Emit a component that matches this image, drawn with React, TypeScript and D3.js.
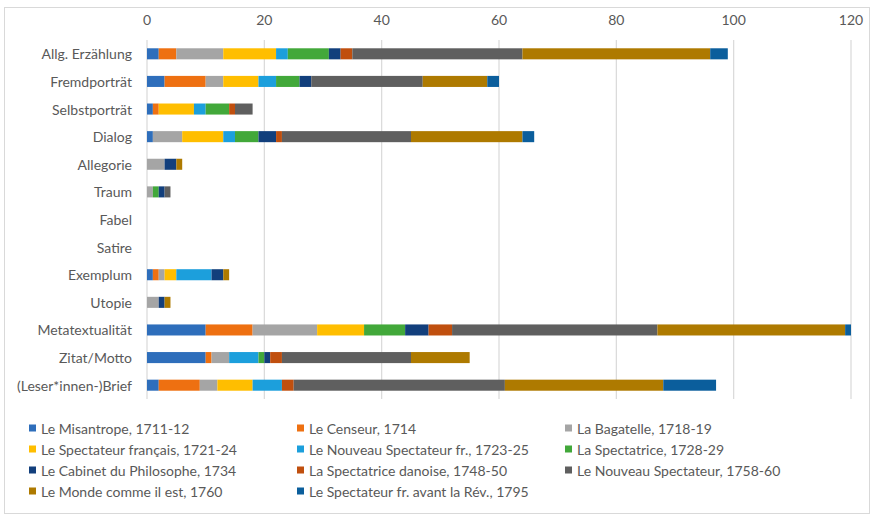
import React from "react";
import * as d3 from "d3";

const categories = [
  "Allg. Erzählung",
  "Fremdporträt",
  "Selbstporträt",
  "Dialog",
  "Allegorie",
  "Traum",
  "Fabel",
  "Satire",
  "Exemplum",
  "Utopie",
  "Metatextualität",
  "Zitat/Motto",
  "(Leser*innen-)Brief",
];

const seriesNames = [
  "Le Misantrope, 1711-12",
  "Le Censeur, 1714",
  "La Bagatelle, 1718-19",
  "Le Spectateur français, 1721-24",
  "Le Nouveau Spectateur fr., 1723-25",
  "La Spectatrice, 1728-29",
  "Le Cabinet du Philosophe, 1734",
  "La Spectatrice danoise, 1748-50",
  "Le Nouveau Spectateur, 1758-60",
  "Le Monde comme il est, 1760",
  "Le Spectateur fr. avant la Rév., 1795",
];

const misantrope = [2, 3, 1, 1, 0, 0, 0, 0, 1, 0, 10, 10, 2];
const censeur = [3, 7, 1, 0, 0, 0, 0, 0, 1, 0, 8, 1, 7];
const bagatelle = [8, 3, 0, 5, 3, 1, 0, 0, 1, 2, 11, 3, 3];
const spectateurFrancais = [9, 6, 6, 7, 0, 0, 0, 0, 2, 0, 8, 0, 6];
const nouveauSpectateurFr = [2, 3, 2, 2, 0, 0, 0, 0, 6, 0, 0, 5, 5];
const spectatrice = [7, 4, 4, 4, 0, 1, 0, 0, 0, 0, 7, 1, 0];
const cabinet = [2, 2, 0, 3, 2, 1, 0, 0, 2, 1, 4, 1, 0];
const spectatriceDanoise = [2, 0, 1, 1, 0, 0, 0, 0, 0, 0, 4, 2, 2];
const nouveauSpectateur = [29, 19, 3, 22, 0, 1, 0, 0, 0, 0, 35, 22, 36];
const mondeCommeIlEst = [32, 11, 0, 19, 1, 0, 0, 0, 1, 1, 32, 10, 27];
const spectateurAvantRev = [3, 2, 0, 2, 0, 0, 0, 0, 0, 0, 1, 0, 9];

const seriesValues = [
  misantrope,
  censeur,
  bagatelle,
  spectateurFrancais,
  nouveauSpectateurFr,
  spectatrice,
  cabinet,
  spectatriceDanoise,
  nouveauSpectateur,
  mondeCommeIlEst,
  spectateurAvantRev,
];

const colors = [
  "#2E6EBB",
  "#EE7011",
  "#A5A5A5",
  "#FFBE00",
  "#1C9FDC",
  "#42A83A",
  "#123F7C",
  "#C04F0E",
  "#5F5F5F",
  "#AE7A00",
  "#0B5E9C",
];

const xTicks = [0, 20, 40, 60, 80, 100, 120];

const W = 872;
const H = 516;
const FONT = "Lato, 'Open Sans', 'Liberation Sans', sans-serif";

export default function App() {
  const x = d3.scaleLinear().domain([0, 120]).range([147, 851]);
  const y = d3
    .scaleBand<string>()
    .domain(categories)
    .range([40, 399])
    .paddingInner(0.6)
    .paddingOuter(0.3);

  const keys = seriesNames.map((_, i) => String(i));
  const rows = categories.map((c, ci) => {
    const r: Record<string, number | string> = { cat: c };
    seriesValues.forEach((s, si) => (r[String(si)] = s[ci]));
    return r;
  });
  const stacked = d3.stack<any>().keys(keys)(rows);

  const legendCols = [29, 297, 565];
  const legendRows = [428, 449, 470, 491];

  return (
    <svg
      width={W}
      height={H}
      style={{ position: "absolute", left: 0, top: 0, background: "#fff" }}
      fontFamily={FONT}
    >
      <rect x={4.5} y={7.5} width={865} height={506} fill="#fff" stroke="#d9d9d9" />
      {xTicks.map((t) => (
        <g key={t}>
          <line x1={x(t)} x2={x(t)} y1={40} y2={399} stroke="#d9d9d9" strokeWidth={1.2} />
          <text
            x={x(t)}
            y={19}
            textAnchor="middle"
            dominantBaseline="central"
            fontSize={14}
            fill="#595959"
          >
            {t}
          </text>
        </g>
      ))}
      {categories.map((c) => (
        <text
          key={c}
          x={132}
          y={(y(c) as number) + y.bandwidth() / 2}
          textAnchor="end"
          dominantBaseline="central"
          fontSize={14}
          fill="#595959"
        >
          {c}
        </text>
      ))}
      {stacked.map((layer, si) => (
        <g key={si} fill={colors[si]}>
          {layer.map((d, ci) =>
            d[1] - d[0] > 0 ? (
              <rect
                key={ci}
                x={x(d[0])}
                y={y(categories[ci]) as number}
                width={x(d[1]) - x(d[0])}
                height={y.bandwidth()}
              />
            ) : null
          )}
        </g>
      ))}
      {seriesNames.map((n, i) => {
        const col = i % 3;
        const row = Math.floor(i / 3);
        const lx = legendCols[col];
        const ly = legendRows[row];
        return (
          <g key={n}>
            <rect x={lx} y={ly - 3.5} width={7} height={7} fill={colors[i]} />
            <text
              x={lx + 12}
              y={ly}
              dominantBaseline="central"
              fontSize={14}
              fill="#595959"
            >
              {n}
            </text>
          </g>
        );
      })}
    </svg>
  );
}
